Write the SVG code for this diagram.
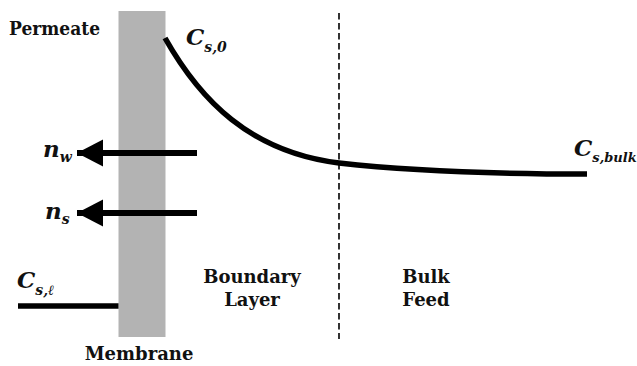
<svg xmlns="http://www.w3.org/2000/svg" width="637" height="366" viewBox="0 0 637 366">
<style>
text{font-family:'DejaVu Serif',serif;font-weight:bold;fill:#111}
.lbl{font-size:18px}
.sym{font-style:italic;font-size:23px}
.sub{font-size:14px}
.thick{fill:none;stroke:#000;stroke-width:5.5}
</style>
<defs>
<marker id="ah" markerUnits="userSpaceOnUse" markerWidth="28" markerHeight="28" refX="26" refY="14" orient="auto">
<path d="M0,0.5 L26,14 L0,27.5 Z" fill="#000"/>
</marker>
</defs>
<rect width="637" height="366" fill="#fff"/>
<g id="membrane">
<rect x="118.5" y="11" width="47" height="326" fill="#b3b3b3"/>
<text class="lbl" x="139" y="360" text-anchor="middle">Membrane</text>
</g>
<g id="permeate"><text class="lbl" x="9" y="35" textLength="91" lengthAdjust="spacingAndGlyphs">Permeate</text></g>
<g id="boundary-layer">
<text class="lbl" x="252" y="283" text-anchor="middle">Boundary</text>
<text class="lbl" x="252" y="306" text-anchor="middle">Layer</text>
</g>
<g id="bulk-feed">
<text class="lbl" x="426" y="283" text-anchor="middle">Bulk</text>
<text class="lbl" x="426" y="306" text-anchor="middle">Feed</text>
</g>
<g id="divider"><line x1="339" y1="13" x2="339" y2="339" stroke="#000" stroke-width="1.6" stroke-dasharray="6.5 3.5"/></g>
<g id="profile">
<path class="thick" d="M165,38 C200,100 250,152 339,163 C420,172 500,174 587,174"/>
<path class="thick" d="M18,306 L118.5,306"/>
</g>
<g id="labels">
<text class="sym" x="186" y="45">C<tspan class="sub" dy="7">s,0</tspan></text>
<text class="sym" x="574" y="156" font-size="22">C<tspan font-size="13" dy="6">s,bulk</tspan></text>
<text class="sym" x="17" y="288">C<tspan class="sub" dy="7">s,ℓ</tspan></text>
<text class="sym" x="43" y="157">n<tspan class="sub" dy="5">w</tspan></text>
<text class="sym" x="45" y="219">n<tspan class="sub" dy="5">s</tspan></text>
</g>
<g id="connectors">
<line x1="197" y1="153" x2="77" y2="153" stroke="#000" stroke-width="6" marker-end="url(#ah)"/>
<line x1="197" y1="213" x2="77" y2="213" stroke="#000" stroke-width="6" marker-end="url(#ah)"/>
</g>
</svg>
